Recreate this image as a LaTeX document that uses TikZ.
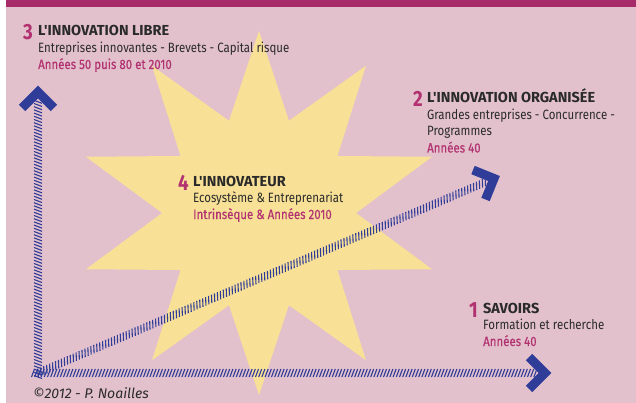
\documentclass[tikz,border=0pt]{standalone}
\usepackage{fontspec}
\setmainfont[FakeStretch=0.85]{Fira Sans}
\newfontfamily\headfont{Fira Sans}
\newfontfamily\yearfont[FakeStretch=0.85, FakeBold=0.5]{Fira Sans}
\usetikzlibrary{positioning,calc,decorations.markings}

\definecolor{bgpink}{HTML}{E2C1CC}
\definecolor{barmag}{HTML}{A72B68}
\definecolor{staryellow}{HTML}{F8E197}
\definecolor{arrowblue}{HTML}{2F3C98}
\definecolor{textmag}{HTML}{B23271}
\definecolor{textdark}{HTML}{2A2A2A}

\newcommand{\lines}[1]{\begin{tabular}[t]{@{}l@{}}#1\end{tabular}}
\newcommand{\heading}[1]{{\headfont\bfseries\fontsize{14.5}{16.5}\selectfont #1}}
\newcommand{\years}[1]{{\yearfont\color{textmag}#1}}

\begin{document}
\begin{tikzpicture}[x=1pt, y=-1pt,
  block/.style={anchor=base west, inner sep=0pt, text=textdark,
    font=\fontsize{13.5}{16.5}\selectfont},
  num/.style={anchor=base east, inner sep=0pt, text=textmag,
    font=\fontsize{22}{22}\selectfont\bfseries},
  hatch/.style={postaction={decorate, decoration={markings,
    mark=between positions 0 and 1 step 3.2pt with
      {\draw[arrowblue, line width=1.1pt] (-1.5pt,-4pt) -- (1.5pt,4pt);}}}},
  chevron/.style={draw=arrowblue, line width=9pt, line join=miter}]

  % page and background
  \fill[white] (0,0) rectangle (636,403);
  \useasboundingbox (0,0) rectangle (636,403);
  \fill[bgpink] (6,7.5) rectangle (636,403);
  \fill[barmag] (6,0) rectangle (636,7.5);

  % star
  \fill[staryellow, shift={(259,213)}] (90:182)
    \foreach \k in {1,...,19} { -- ({90+18*\k}:{mod(\k,2)==0 ? 182 : 97}) } -- cycle;

  % axes
  \coordinate (O) at (38,373);
  \coordinate (ytip) at (38,92);
  \coordinate (xtip) at (545,373);
  \coordinate (dtip) at (494,178.5);

  \path[hatch] (38,377) -- ([yshift=-8pt]ytip);
  \path[hatch] (33,373) -- ([xshift=-8pt]xtip);
  \path[hatch] (O) -- ($(dtip)!8pt!(O)$);

  \draw[chevron, shift={(ytip)}, rotate=90] (-16,-16) -- (0,0) -- (-16,16);
  \draw[chevron, shift={(xtip)}] (-16,-16) -- (0,0) -- (-16,16);
  \draw[chevron, shift={(dtip)}, rotate=23] (-16,-16) -- (0,0) -- (-16,16);

  % texts
  \node[block] (savoirs) at (483,313) {\lines{\heading{SAVOIRS}\\
    Formation et recherche\\
    \years{Années 40}}};
  \node[num] (n1) at ([xshift=-5pt, yshift=-4pt]savoirs.base west) {1};

  \node[block] (organisee) at (427,103) {\lines{\heading{L'INNOVATION ORGANISÉE}\\
    Grandes entreprises - Concurrence -\\
    Programmes\\
    \years{Années 40}}};
  \node[num] (n2) at ([xshift=-4pt, yshift=-4pt]organisee.base west) {2};

  \node[block] (libre) at (38,36) {\lines{\heading{L'INNOVATION LIBRE}\\
    Entreprises innovantes - Brevets - Capital risque\\
    \years{Années 50 puis 80 et 2010}}};
  \node[num] (n3) at ([xshift=-5pt, yshift=-4pt]libre.base west) {3};

  \node[block] (innovateur) at (193,186) {\lines{\heading{L'INNOVATEUR}\\
    Ecosystème \& Entreprenariat\\
    \years{Intrinsèque \& Années 2010}}};
  \node[num] (n4) at ([xshift=-4pt, yshift=-5pt]innovateur.base west) {4};

  \node[anchor=base west, inner sep=0pt, text=textdark,
    font=\headfont\fontsize{14}{16}\selectfont\itshape] (copy) at (33,398) {©2012 - P. Noailles};
\end{tikzpicture}
\end{document}
